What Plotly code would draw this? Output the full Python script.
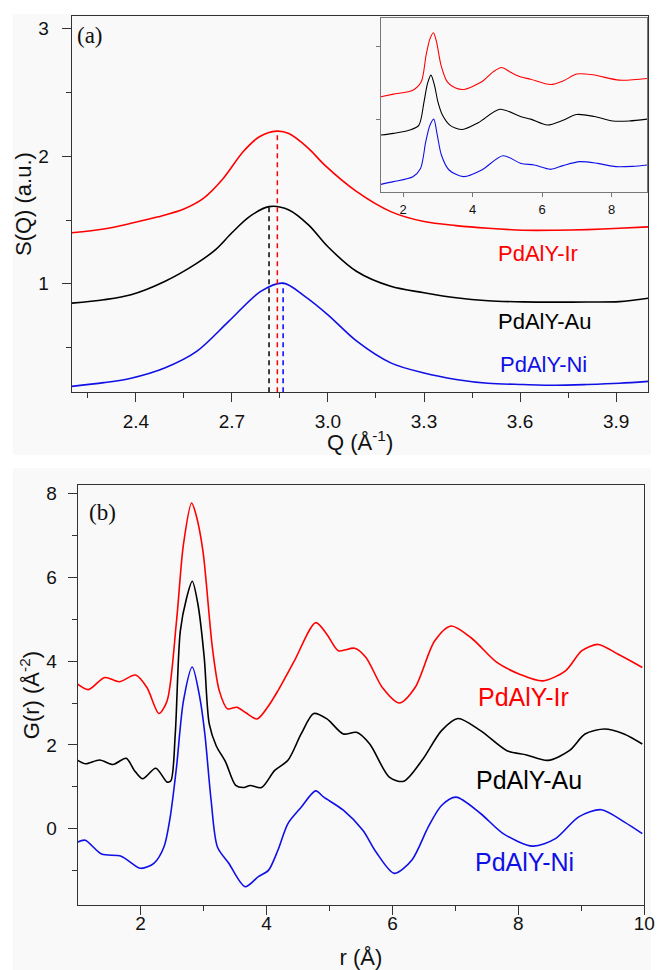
import plotly.graph_objects as go

# ---------------- data: panel (a) S(Q) main ----------------
qa_ir = [2.20, 2.30, 2.385, 2.47, 2.55, 2.611, 2.673, 2.735, 2.786, 2.84, 2.878, 2.94, 2.99, 3.09, 3.196, 3.30, 3.40, 3.50, 3.61, 3.71, 3.81, 3.91, 4.00]
sa_ir = [1.40, 1.43, 1.474, 1.525, 1.587, 1.67, 1.826, 2.035, 2.153, 2.197, 2.178, 2.06, 1.93, 1.722, 1.566, 1.488, 1.456, 1.435, 1.42, 1.42, 1.425, 1.435, 1.446]

qa_au = [2.20, 2.30, 2.385, 2.49, 2.59, 2.65, 2.70, 2.755, 2.816, 2.878, 2.94, 3.00, 3.09, 3.196, 3.30, 3.40, 3.50, 3.61, 3.71, 3.81, 3.91, 4.00]
sa_au = [0.848, 0.875, 0.914, 1.018, 1.16, 1.27, 1.40, 1.527, 1.605, 1.579, 1.46, 1.29, 1.096, 0.98, 0.93, 0.89, 0.867, 0.858, 0.856, 0.857, 0.86, 0.887]

qa_ni = [2.20, 2.30, 2.385, 2.49, 2.59, 2.69, 2.79, 2.86, 2.929, 3.00, 3.09, 3.196, 3.30, 3.40, 3.50, 3.61, 3.71, 3.81, 3.91, 4.00]
sa_ni = [0.196, 0.225, 0.26, 0.34, 0.47, 0.705, 0.94, 1.005, 0.90, 0.757, 0.55, 0.38, 0.30, 0.25, 0.22, 0.21, 0.204, 0.21, 0.22, 0.235]

# peak positions (dashed markers)
peak_q = [2.816, 2.842, 2.860]
peak_s = [1.605, 2.197, 1.005]
peak_colors = ["#000000", "#ff0000", "#0000ff"]

# ---------------- data: inset S(Q) wide range ----------------
qi_ir = [1.36, 1.72, 2.28, 2.52, 2.66, 2.77, 2.87, 2.96, 3.09, 3.27, 3.51, 3.74, 4.26, 4.59, 4.83, 5.11, 5.39, 5.67, 6.24, 6.62, 6.99, 7.46, 8.22, 9.02]
si_ir = [1.309, 1.346, 1.40, 1.514, 1.877, 2.10, 2.185, 2.06, 1.74, 1.514, 1.43, 1.41, 1.514, 1.65, 1.709, 1.64, 1.58, 1.55, 1.477, 1.53, 1.62, 1.61, 1.537, 1.56]

qi_au = [1.36, 1.72, 2.19, 2.45, 2.60, 2.70, 2.80, 2.90, 3.00, 3.13, 3.35, 3.70, 4.17, 4.78, 5.39, 5.67, 6.15, 6.60, 6.99, 7.50, 8.03, 8.50, 9.02]
si_au = [0.787, 0.81, 0.856, 0.92, 1.24, 1.49, 1.605, 1.47, 1.24, 1.06, 0.92, 0.864, 0.959, 1.14, 1.037, 1.005, 0.924, 0.99, 1.068, 1.04, 0.98, 0.98, 1.005]

qi_ni = [1.36, 1.72, 2.28, 2.50, 2.65, 2.77, 2.88, 2.98, 3.10, 3.32, 3.74, 4.26, 4.87, 5.39, 5.77, 6.24, 6.60, 7.08, 7.60, 8.12, 8.60, 9.02]
si_ni = [0.114, 0.151, 0.219, 0.33, 0.696, 0.92, 1.005, 0.79, 0.515, 0.31, 0.219, 0.31, 0.505, 0.40, 0.378, 0.319, 0.37, 0.424, 0.40, 0.356, 0.36, 0.378]

# ---------------- data: panel (b) G(r) ----------------
rb_ir = [1.00, 1.17, 1.43, 1.66, 1.92, 2.10, 2.29, 2.42, 2.57, 2.68, 2.81, 2.88, 2.99, 3.14, 3.25, 3.38, 3.53, 3.66, 3.85, 4.03, 4.18, 4.44, 4.78, 4.96, 5.14, 5.40, 5.58, 5.84, 6.11, 6.36, 6.67, 6.93, 7.25, 7.66, 8.02, 8.39, 8.75, 9.01, 9.27, 9.58, 9.97]
gb_ir = [3.45, 3.32, 3.61, 3.51, 3.67, 3.37, 2.75, 3.05, 4.96, 6.79, 7.78, 7.50, 6.63, 4.32, 3.29, 2.86, 2.90, 2.78, 2.62, 2.93, 3.29, 4.00, 4.92, 4.64, 4.25, 4.31, 4.09, 3.37, 3.00, 3.37, 4.48, 4.84, 4.56, 3.97, 3.69, 3.53, 3.77, 4.25, 4.40, 4.17, 3.85]

rb_au = [1.00, 1.12, 1.35, 1.56, 1.77, 1.90, 2.03, 2.24, 2.42, 2.48, 2.55, 2.63, 2.73, 2.82, 2.91, 3.01, 3.09, 3.20, 3.35, 3.51, 3.64, 3.74, 3.92, 4.13, 4.34, 4.55, 4.75, 4.96, 5.22, 5.43, 5.64, 5.95, 6.18, 6.47, 6.78, 7.04, 7.40, 7.82, 8.13, 8.47, 8.81, 9.06, 9.37, 9.68, 9.97]
gb_au = [1.63, 1.55, 1.64, 1.53, 1.68, 1.39, 1.19, 1.44, 1.11, 1.14, 2.26, 4.72, 5.51, 5.91, 5.36, 4.09, 2.50, 1.98, 1.59, 1.03, 0.98, 1.03, 0.98, 1.39, 1.63, 2.26, 2.75, 2.62, 2.26, 2.30, 2.02, 1.23, 1.13, 1.63, 2.34, 2.63, 2.34, 1.86, 1.76, 1.63, 1.86, 2.26, 2.38, 2.26, 2.02]

rb_ni = [1.00, 1.12, 1.38, 1.69, 2.00, 2.21, 2.37, 2.47, 2.57, 2.68, 2.82, 2.94, 3.02, 3.12, 3.22, 3.40, 3.66, 3.87, 4.03, 4.18, 4.34, 4.55, 4.78, 4.91, 5.22, 5.53, 5.74, 6.03, 6.31, 6.57, 6.78, 7.01, 7.40, 7.76, 8.23, 8.59, 8.96, 9.32, 9.68, 9.97]
gb_ni = [-0.32, -0.28, -0.61, -0.66, -0.95, -0.83, -0.44, 0.28, 1.47, 3.05, 3.86, 3.13, 2.26, 0.67, -0.44, -0.83, -1.39, -1.15, -1.00, -0.52, 0.12, 0.51, 0.90, 0.75, 0.44, -0.04, -0.56, -1.07, -0.75, 0.04, 0.55, 0.75, 0.36, -0.12, -0.42, -0.24, 0.28, 0.45, 0.16, -0.12]

labels = ["PdAlY-Ir", "PdAlY-Au", "PdAlY-Ni"]
RED, BLACK, BLUE = "#ff0000", "#000000", "#1010e6"

W, H = 667, 970
def px(x):
    return x / W
def py(y):
    return 1 - y / H

fig = go.Figure()
for q, s, c, n in [(qa_ir, sa_ir, RED, labels[0]), (qa_au, sa_au, BLACK, labels[1]), (qa_ni, sa_ni, BLUE, labels[2])]:
    fig.add_trace(go.Scatter(x=q, y=s, mode="lines", line=dict(color=c, width=1.6, shape="spline", smoothing=0.9),
                             name=n, xaxis="x", yaxis="y", showlegend=False))
for q0, s0, c in zip(peak_q, peak_s, peak_colors):
    fig.add_trace(go.Scatter(x=[q0, q0], y=[0.15, s0], mode="lines", line=dict(color=c, width=1.5, dash="5px,4px"),
                             xaxis="x", yaxis="y", showlegend=False, hoverinfo="skip"))
for q, s, c in [(qi_ir, si_ir, RED), (qi_au, si_au, BLACK), (qi_ni, si_ni, BLUE)]:
    fig.add_trace(go.Scatter(x=q, y=s, mode="lines", line=dict(color=c, width=1.1, shape="spline", smoothing=0.8),
                             xaxis="x2", yaxis="y2", showlegend=False))
for r, g, c, n in [(rb_ir, gb_ir, RED, labels[0]), (rb_au, gb_au, BLACK, labels[1]), (rb_ni, gb_ni, BLUE, labels[2])]:
    fig.add_trace(go.Scatter(x=r, y=g, mode="lines", line=dict(color=c, width=1.6, shape="spline", smoothing=0.8),
                             name=n, xaxis="x3", yaxis="y3", showlegend=False))

FONT = "Liberation Sans, Arial, sans-serif"
AX = "#333333"
tickfont = dict(family=FONT, size=19, color="#111111")
titlefont = dict(family=FONT, size=22, color="#111111")
common = dict(showline=True, linecolor=AX, linewidth=1.3, mirror=True, ticks="outside", ticklen=9,
              tickwidth=1.2, tickcolor=AX, showgrid=False, zeroline=False, tickfont=tickfont)

layout = dict(
    width=W, height=H, margin=dict(l=0, r=0, t=0, b=0),
    paper_bgcolor="white", plot_bgcolor="#f9f9f9", showlegend=False,
    xaxis=dict(domain=[px(73), px(659)], anchor="y", range=[2.2, 4.0], tick0=0, dtick=0.3, tickformat=".1f",
               minor=dict(ticks="outside", ticklen=5, dtick=0.15, tickcolor=AX),
               ticklabelstandoff=3, **common),
    yaxis=dict(domain=[py(391), py(14)], anchor="x", range=[0.15, 3.1], tickvals=[1, 2, 3],
               minor=dict(ticks="outside", ticklen=5, tickvals=[0.5, 1.5, 2.5], tickcolor=AX),
               title=dict(text="S(Q) (a.u.)", font=titlefont, standoff=0), ticklabelstandoff=9, **common),
    xaxis2=dict(domain=[px(387.3), px(658)], anchor="y2", range=[1.36, 9.02], tickvals=[2, 4, 6, 8],
                showline=True, linecolor="#777777", linewidth=1, mirror=True, ticks="outside", ticklen=4,
                tickcolor="#777777", showgrid=False, zeroline=False,
                tickfont=dict(family=FONT, size=13, color="#111111"), ticklabelstandoff=2),
    yaxis2=dict(domain=[py(190), py(16)], anchor="x2", range=[0.015, 2.386], tickvals=[1, 2], showticklabels=False,
                showline=True, linecolor="#777777", linewidth=1, mirror=True, ticks="outside", ticklen=4,
                tickcolor="#777777", showgrid=False, zeroline=False),
    xaxis3=dict(domain=[px(79), px(655)], anchor="y3", range=[1, 10], tickvals=[2, 4, 6, 8, 10],
                minor=dict(ticks="outside", ticklen=5, tickvals=[3, 5, 7, 9], tickcolor=AX),
                title=dict(text="r (Å)", font=titlefont, standoff=20), ticklabelstandoff=-8, **common),
    yaxis3=dict(domain=[py(905), py(484)], anchor="x3", range=[-1.83, 8.21], tickvals=[0, 2, 4, 6, 8],
                minor=dict(ticks="outside", ticklen=5, tickvals=[-1, 1, 3, 5, 7], tickcolor=AX),
                title=dict(text="G(r) (Å<sup>-2</sup>)", font=titlefont, standoff=0), ticklabelstandoff=7, **common),
    shapes=[
        dict(type="rect", xref="paper", yref="paper", x0=px(13), x1=px(662), y0=py(454), y1=py(12),
             fillcolor="#f9f9f9", line=dict(width=0), layer="below"),
        dict(type="rect", xref="paper", yref="paper", x0=px(13), x1=px(662), y0=0, y1=py(467),
             fillcolor="#f9f9f9", line=dict(width=0), layer="below"),
    ],
)

ann = []
# x-axis title of panel (a), placed tight under its tick labels as in the original
ann.append(dict(text="Q (Å<sup>-1</sup>)", x=px(366), y=py(440), xref="paper", yref="paper", showarrow=False,
                xanchor="center", yanchor="middle", font=titlefont))
for txt, c, x, y in [(labels[0], RED, 3.657, 1.239), (labels[1], BLACK, 3.677, 0.705), (labels[2], BLUE, 3.673, 0.368)]:
    ann.append(dict(text=txt, x=x, y=y, xref="x", yref="y", showarrow=False,
                    font=dict(family=FONT, size=22, color=c), xanchor="center", yanchor="middle"))
for txt, c, x, y in [(labels[0], RED, 8.09, 3.15), (labels[1], BLACK, 8.17, 1.17), (labels[2], BLUE, 8.10, -0.80)]:
    ann.append(dict(text=txt, x=x, y=y, xref="x3", yref="y3", showarrow=False,
                    font=dict(family=FONT, size=25, color=c), xanchor="center", yanchor="middle"))
ann.append(dict(text="(a)", x=px(76), y=py(33.5), xref="paper", yref="paper", showarrow=False, xanchor="left",
                yanchor="middle", font=dict(family="Liberation Serif, Times New Roman, serif", size=23, color="#111111")))
ann.append(dict(text="(b)", x=px(88), y=py(512), xref="paper", yref="paper", showarrow=False, xanchor="left",
                yanchor="middle", font=dict(family="Liberation Serif, Times New Roman, serif", size=23, color="#111111")))
layout["annotations"] = ann

fig.update_layout(**layout)
fig.write_html("out.html")
